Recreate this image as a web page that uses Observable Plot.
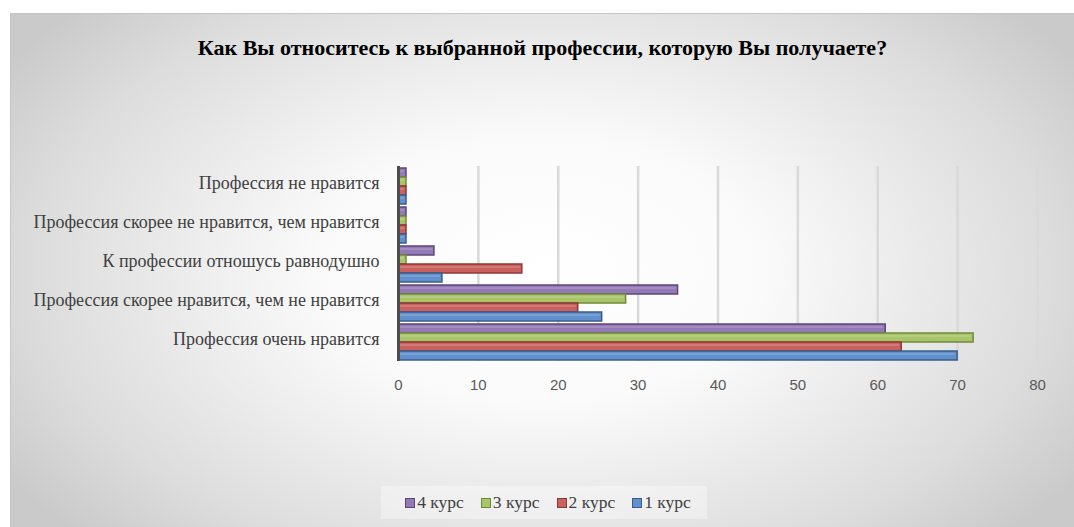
<!DOCTYPE html>
<html><head><meta charset="utf-8">
<script src="https://cdn.jsdelivr.net/npm/d3@7"></script>
<script src="https://cdn.jsdelivr.net/npm/@observablehq/plot@0.6"></script>
<style>
html,body{margin:0;padding:0;background:#fff;}
#frame{position:absolute;left:10px;top:13px;width:1063px;height:513px;border:1px solid #c4c4c4;border-right:none;border-bottom:none;
background:radial-gradient(ellipse 60% 75% at 50% 50%, #ffffff 0%, #fafafa 35%, #dcdcdc 80%, #cacaca 100%);overflow:hidden;}
#title{position:absolute;left:0;top:21px;width:1063px;text-align:center;font-family:"Liberation Serif",serif;font-weight:bold;font-size:22px;color:#000;}
#chart{position:absolute;left:0;top:0;}
#legend{position:absolute;left:370px;top:472px;width:326px;height:33px;background:rgba(255,255,255,0.35);font-family:"Liberation Serif",serif;font-size:17.5px;color:#404040;display:flex;align-items:center;justify-content:center;gap:17px;padding-left:8px;box-sizing:border-box;}
#legend .it{display:flex;align-items:center;gap:2px;}
#legend .sw{width:8px;height:8px;border:1px solid;display:inline-block;}
</style></head>
<body>
<div id="frame">
  <div id="chart"></div>
  <div id="title">Как Вы относитесь к выбранной профессии, которую Вы получаете?</div>
  <div id="legend"></div>
</div>
<script>
const categories = ["Профессия не нравится", "Профессия скорее не нравится, чем нравится", "К профессии отношусь равнодушно", "Профессия скорее нравится, чем не нравится", "Профессия очень нравится"];
const courses = ["4 курс", "3 курс", "2 курс", "1 курс"];
const course4 = [1, 1, 4.5, 35, 61];
const course3 = [1, 1, 1, 28.5, 72];
const course2 = [1, 1, 15.5, 22.5, 63];
const course1 = [1, 1, 5.5, 25.5, 70];
const xTicks = [0, 10, 20, 30, 40, 50, 60, 70, 80];

const values = {"4 курс": course4, "3 курс": course3, "2 курс": course2, "1 курс": course1};
const fills = {"4 курс": "#937ab6", "3 курс": "#a8c56a", "2 курс": "#cb615e", "1 курс": "#6190cc"};
const strokes = {"4 курс": "#5c4776", "3 курс": "#71893f", "2 курс": "#8c3836", "1 курс": "#385d8a"};

const data = [];
courses.forEach(c => categories.forEach((cat, i) => data.push({cat, course: c, value: values[c][i]})));

const barMarks = courses.flatMap(c => {
  const sub = data.filter(d => d.course === c);
  return [
    Plot.barX(sub, {fy: "cat", y: "course", x: "value", fill: fills[c], stroke: strokes[c], strokeWidth: 1.5}),
    Plot.barX(sub, {fy: "cat", y: "course", x: "value", fill: "#fff", fillOpacity: 0.15, insetTop: 2, insetBottom: 5, insetRight: 2})
  ];
});

const chart = Plot.plot({
  width: 1063,
  height: 400,
  marginLeft: 387,
  marginRight: 37,
  marginTop: 150,
  marginBottom: 51,
  style: {background: "transparent", overflow: "visible"},
  x: {domain: [0, 80], ticks: xTicks, label: null, tickSize: 0},
  fy: {domain: categories, padding: 0, label: null},
  y: {domain: courses, padding: 0, paddingOuter: 0.15, axis: null},
  marks: [
    Plot.ruleX(xTicks.filter(t => t > 0), {stroke: "#d9d9d9", strokeWidth: 2.5}),
    ...barMarks,
    Plot.ruleX([0], {stroke: "#4d4d4d", strokeWidth: 3}),
    Plot.axisX({ticks: xTicks, tickSize: 0, tickPadding: 18, fontSize: 15, fill: "#595959", fontFamily: "Liberation Sans, sans-serif", label: null}),
    Plot.axisFy({anchor: "left", tickSize: 0, tickPadding: 19, fontSize: 18, dy: -3, fill: "#404040", fontFamily: "Liberation Serif, serif", label: null})
  ]
});
document.getElementById("chart").appendChild(chart);

const leg = document.getElementById("legend");
courses.forEach(c => {
  const it = document.createElement("span");
  it.className = "it";
  const sw = document.createElement("span");
  sw.className = "sw";
  sw.style.background = fills[c];
  sw.style.borderColor = strokes[c];
  const t = document.createElement("span");
  t.textContent = c;
  it.appendChild(sw); it.appendChild(t);
  leg.appendChild(it);
});
</script>
</body></html>
